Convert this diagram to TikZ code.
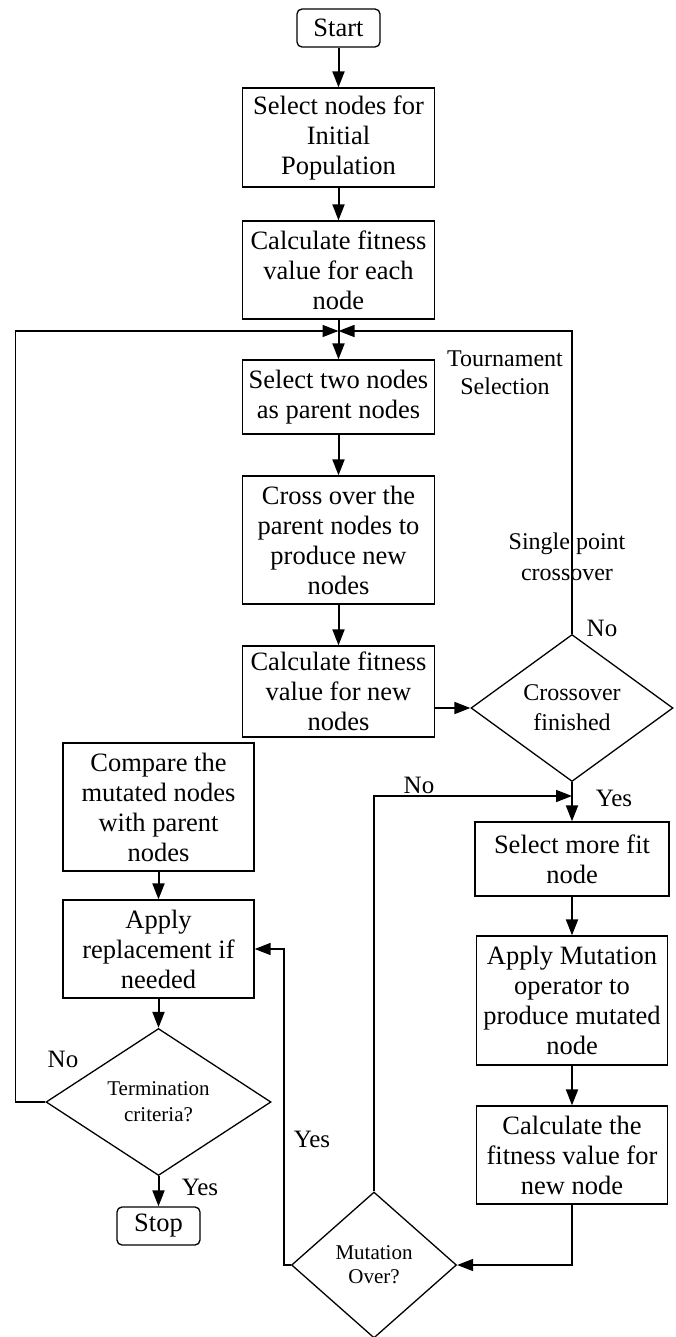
\documentclass[tikz,border=0pt]{standalone}
\usepackage{fontspec}
\setmainfont{Liberation Serif}
\usetikzlibrary{arrows.meta,shapes.geometric}

\tikzset{
  box/.style={draw, line width=1.3pt, align=center, inner sep=0pt,
    font=\fontsize{26.5}{30}\selectfont},
  term/.style={box, rounded corners=5pt, minimum width=83pt, minimum height=38pt},
  dec/.style={draw, diamond, line width=1.3pt, align=center, inner sep=0pt},
  arr/.style={line width=2pt, -{Triangle[length=16pt,width=12pt]}},
  loopline/.style={line width=1.6pt, -{Triangle[length=16pt,width=12pt]}},
  lbl/.style={align=center, font=\fontsize{25}{29}\selectfont},
}

\begin{document}
\begin{tikzpicture}[x=1pt,y=-1pt]
  \useasboundingbox (0,0) rectangle (675,1337);
  % main column
  \node[term] (start) at (338.5,28) {Start};
  \node[box, minimum width=192pt, minimum height=99pt] (init) at (338.5,137.5)
    {Select nodes for\\Initial\\Population};
  \node[box, minimum width=192pt, minimum height=98pt] (fit) at (338.5,270)
    {Calculate fitness\\value for each\\node};
  \coordinate (join) at (338.5,331);
  \node[box, minimum width=192pt, minimum height=74pt] (sel) at (338.5,397)
    {Select two nodes\\as parent nodes};
  \node[box, minimum width=192pt, minimum height=128pt] (cross) at (338.5,540)
    {Cross over the\\parent nodes to\\produce new\\nodes};
  \node[box, minimum width=192pt, minimum height=91pt] (fitnew) at (338.5,691.5)
    {Calculate fitness\\value for new\\nodes};
  % right column
  \node[dec, minimum width=202pt, minimum height=147pt,
    font=\fontsize{24}{30}\selectfont] (xover) at (572,708) {Crossover\\finished};
  \coordinate (mtarget) at (572,796);
  \node[box, minimum width=194pt, minimum height=74pt] (more) at (572,859)
    {Select more fit\\node};
  \node[box, minimum width=191pt, minimum height=129pt] (mut) at (572,1000.5)
    {Apply Mutation\\operator to\\produce mutated\\node};
  \node[box, minimum width=191pt, minimum height=98pt] (calc) at (572,1155)
    {Calculate the\\fitness value for\\new node};
  \node[dec, minimum width=165pt, minimum height=146pt,
    font=\fontsize{21}{24}\selectfont] (mover) at (374,1265) {Mutation\\Over?};
  % left column
  \node[box, minimum width=191pt, minimum height=128pt] (cmp) at (158.5,807)
    {Compare the\\mutated nodes\\with parent\\nodes};
  \node[box, minimum width=191pt, minimum height=98pt] (repl) at (158.5,949)
    {Apply\\replacement if\\needed};
  \node[dec, minimum width=225pt, minimum height=147pt,
    font=\fontsize{21}{26}\selectfont] (term) at (158.5,1102) {Termination\\criteria?};
  \node[term] (stop) at (158.5,1226) {Stop};

  % labels
  \node[lbl, font=\fontsize{24}{28}\selectfont] (tsel) at (505,373) {Tournament\\Selection};
  \node[lbl, font=\fontsize{24}{31}\selectfont] (spx) at (567,557) {Single point\\crossover};
  \node[lbl] (xno) at (602,628) {No};
  \node[lbl] (xyes) at (614,798) {Yes};
  \node[lbl] (mno) at (419,785) {No};
  \node[lbl] (myes) at (312,1139) {Yes};
  \node[lbl] (tno) at (63,1059) {No};
  \node[lbl] (tyes) at (200,1187) {Yes};

  % connectors
  \draw[arr] (start) -- (init);
  \draw[arr] (init) -- (fit);
  \draw[line width=2pt] (fit) -- (join);
  \draw[arr] (join) -- (sel);
  \draw[arr] (sel) -- (cross);
  \draw[arr] (cross) -- (fitnew);
  \draw[arr] (fitnew.east |- xover.west) -- (xover.west);
  \draw[loopline] (xover.north) |- (join);
  \draw[arr] (xover) -- (more);
  \draw[arr] (more) -- (mut);
  \draw[arr] (mut) -- (calc);
  \draw[loopline] (calc.south) |- (mover.east);
  \draw[loopline] (mover.north) |- (mtarget);
  \draw[loopline] (mover.west) -- ++(-7,0) |- (repl.east);
  \draw[arr] (cmp) -- (repl);
  \draw[arr] (repl) -- (term);
  \draw[loopline] (term.west) -- ++(-30,0) |- (join);
  \draw[arr] (term) -- (stop);
\end{tikzpicture}
\end{document}
